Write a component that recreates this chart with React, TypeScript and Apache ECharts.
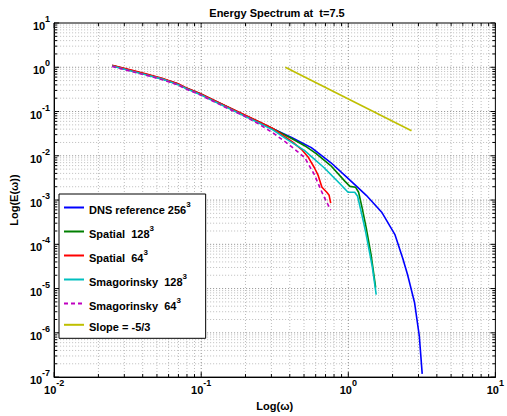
import React, { useEffect, useRef } from "react";
import * as echarts from "echarts";

// ---- data ----
const commonPts: number[][] = [
  [0.0248, 1.09], [0.0319, 0.879], [0.0419, 0.697], [0.0542, 0.552], [0.0697, 0.416],
  [0.0788, 0.338], [0.0991, 0.248], [0.124, 0.173], [0.156, 0.12], [0.195, 0.0839],
  [0.245, 0.0585], [0.307, 0.0407],
];
const dnsTail: number[][] = [
  [0.415, 0.0256], [0.561, 0.0153], [0.759, 0.00704], [0.979, 0.00325], [1.14, 0.00204],
  [1.325, 0.00128], [1.687, 0.000532], [2.08, 0.000163], [2.35, 4.71e-5], [2.53, 2.06e-5],
  [2.82, 4.85e-6], [3.04, 8.39e-7], [3.18, 1.18e-7],
];
const spatial128Tail: number[][] = [
  [0.415, 0.0243], [0.505, 0.0169], [0.605, 0.0112], [0.759, 0.00603], [0.95, 0.00264],
  [1.026, 0.00204], [1.122, 0.00194], [1.175, 0.0015], [1.247, 0.000622], [1.325, 0.000233],
  [1.429, 5.78e-5], [1.535, 1.05e-5],
];
const spatial64Tail: number[][] = [
  [0.415, 0.0208], [0.482, 0.0138], [0.536, 0.00912], [0.587, 0.00544], [0.624, 0.0036],
  [0.662, 0.00194], [0.714, 0.0015], [0.741, 0.00128], [0.759, 0.000848],
];
const smag128: number[][] = [
  [0.0248, 1.07], [0.0319, 0.86], [0.0419, 0.68], [0.0542, 0.54], [0.0697, 0.405],
  [0.0788, 0.33], [0.0991, 0.24], [0.124, 0.167], [0.156, 0.115], [0.195, 0.08],
  [0.245, 0.0555], [0.307, 0.0385], [0.385, 0.0231], [0.505, 0.0131], [0.682, 0.00544],
  [0.881, 0.0023], [0.996, 0.0015], [1.106, 0.0015], [1.157, 0.00122], [1.247, 0.000411],
  [1.319, 0.000174], [1.456, 3.11e-5], [1.548, 7.33e-6],
];
const smag64: number[][] = [
  [0.0248, 1.04], [0.0319, 0.84], [0.0419, 0.665], [0.0542, 0.525], [0.0697, 0.395],
  [0.0788, 0.322], [0.0991, 0.235], [0.124, 0.163], [0.156, 0.112], [0.195, 0.0797],
  [0.245, 0.0527], [0.307, 0.0331], [0.396, 0.0178], [0.505, 0.00912], [0.587, 0.00379],
  [0.671, 0.00135], [0.759, 0.000591],
];
const slopeLine: number[][] = [[0.373, 1.0], [2.69, 0.0367]];

const seriesNames = [
  "DNS reference 256",
  "Spatial  128",
  "Spatial  64",
  "Smagorinsky  128",
  "Smagorinsky  64",
  "Slope = -5/3",
];
const seriesColors = ["#0000ff", "#007f00", "#ff0000", "#00bfbf", "#bf00bf", "#bfbf00"];

const xDecades = [-2, -1, 0, 1];
const yDecades = [-7, -6, -5, -4, -3, -2, -1, 0, 1];
const minorMultipliers = [1, 2, 3, 4, 5, 6, 7, 8, 9];

const FONT = "'Liberation Sans', Arial, Helvetica, sans-serif";

function tickValues(decades: number[]): number[] {
  const out: number[] = [];
  for (let i = 0; i < decades.length; i++) {
    const e = decades[i];
    if (i === decades.length - 1) {
      out.push(Math.pow(10, e));
    } else {
      for (const m of minorMultipliers) out.push(m * Math.pow(10, e));
    }
  }
  return out;
}

function isMajor(v: number) {
  const l = Math.log10(v);
  return Math.abs(l - Math.round(l)) < 1e-6;
}

function expLabel(v: number) {
  const e = Math.round(Math.log10(v));
  return `{b|10}{s|${e}}`;
}

const richLabel = {
  b: { fontSize: 11, fontWeight: "bold", fontFamily: FONT, color: "#000", lineHeight: 17, verticalAlign: "bottom" },
  s: { fontSize: 9, fontWeight: "bold", fontFamily: FONT, color: "#000", lineHeight: 10, verticalAlign: "top" },
};

export default function App() {
  const ref = useRef<HTMLDivElement>(null);
  useEffect(() => {
    if (!ref.current) return;
    const chart = echarts.init(ref.current, undefined, { renderer: "svg" });

    const xTicks = tickValues(xDecades);
    const yTicks = tickValues(yDecades);

    const xGridSeries = {
      type: "custom",
      silent: true,
      z: 1,
      data: xTicks.map((v) => [v, 1]),
      renderItem: (params: any, api: any) => {
        const cs = params.coordSys;
        const v = api.value(0);
        const px = api.coord([v, 1])[0];
        const major = isMajor(v);
        const tl = major ? 5 : 3;
        const children: any[] = [];
        if (px > cs.x + 0.5 && px < cs.x + cs.width - 0.5) {
          children.push({
            type: "line",
            shape: { x1: px, y1: cs.y, x2: px, y2: cs.y + cs.height },
            style: { stroke: major ? "#8c8c8c" : "#bdbdbd", lineWidth: 1, lineDash: [1, 2] },
          });
        }
        children.push({
          type: "line",
          shape: { x1: px, y1: cs.y + cs.height, x2: px, y2: cs.y + cs.height - tl },
          style: { stroke: "#000", lineWidth: 1 },
        });
        children.push({
          type: "line",
          shape: { x1: px, y1: cs.y, x2: px, y2: cs.y + tl },
          style: { stroke: "#000", lineWidth: 1 },
        });
        return { type: "group", children };
      },
    };

    const yGridSeries = {
      type: "custom",
      silent: true,
      z: 1,
      data: yTicks.map((v) => [1, v]),
      renderItem: (params: any, api: any) => {
        const cs = params.coordSys;
        const v = api.value(1);
        const py = api.coord([1, v])[1];
        const major = isMajor(v);
        const tl = major ? 5 : 3;
        const children: any[] = [];
        if (py > cs.y + 0.5 && py < cs.y + cs.height - 0.5) {
          children.push({
            type: "line",
            shape: { x1: cs.x, y1: py, x2: cs.x + cs.width, y2: py },
            style: { stroke: major ? "#8c8c8c" : "#bdbdbd", lineWidth: 1, lineDash: [1, 2] },
          });
        }
        children.push({
          type: "line",
          shape: { x1: cs.x, y1: py, x2: cs.x + tl, y2: py },
          style: { stroke: "#000", lineWidth: 1 },
        });
        children.push({
          type: "line",
          shape: { x1: cs.x + cs.width, y1: py, x2: cs.x + cs.width - tl, y2: py },
          style: { stroke: "#000", lineWidth: 1 },
        });
        return { type: "group", children };
      },
    };

    const curves = [
      commonPts.concat(dnsTail),
      commonPts.concat(spatial128Tail),
      commonPts.map((p) => [p[0], p[1] * 1.02]).concat(spatial64Tail),
      smag128,
      smag64,
      slopeLine,
    ];

    const lineSeries = curves.map((d, i) => ({
      name: seriesNames[i],
      type: "line",
      data: d,
      symbol: "none",
      z: 3,
      lineStyle: {
        color: seriesColors[i],
        width: 1.6,
        type: i === 4 ? [4, 3] : "solid",
      },
      itemStyle: { color: seriesColors[i] },
    }));

    chart.setOption({
      animation: false,
      backgroundColor: "#fff",
      title: {
        text: "Energy Spectrum at  t=7.5",
        left: 272,
        textAlign: "center",
        top: 2,
        textStyle: { fontSize: 11, fontWeight: "bold", fontFamily: FONT, color: "#000" },
      },
      grid: {
        left: 43,
        top: 23,
        width: 458,
        height: 358,
        show: true,
        borderColor: "#000",
        borderWidth: 1,
        backgroundColor: "transparent",
        z: 4,
      },
      legend: {
        orient: "vertical",
        left: 59,
        top: 194,
        data: seriesNames,
        backgroundColor: "#fff",
        borderColor: "#000",
        borderWidth: 1,
        padding: [6, 15, 6, 4],
        itemWidth: 20,
        itemHeight: 12,
        itemGap: 9,
        z: 10,
        selectedMode: false,
        itemStyle: { opacity: 0, borderWidth: 0 },
        formatter: (name: string) =>
          name.startsWith("Slope") ? `{t|${name}}` : `{t|${name}}{s|3}`,
        textStyle: {
          fontFamily: FONT,
          rich: {
            t: { fontSize: 11, fontWeight: "bold", fontFamily: FONT, color: "#000", lineHeight: 15, verticalAlign: "bottom" },
            s: { fontSize: 8, fontWeight: "bold", fontFamily: FONT, color: "#000", lineHeight: 8, verticalAlign: "top" },
          },
        },
      },
      xAxis: {
        type: "log",
        logBase: 10,
        min: 0.01,
        max: 10,
        name: "Log(ω)",
        nameLocation: "middle",
        nameGap: 21,
        nameTextStyle: { fontSize: 11, fontWeight: "bold", fontFamily: FONT, color: "#000" },
        axisLine: { show: true, lineStyle: { color: "#000", width: 1 } },
        axisTick: { show: false },
        splitLine: { show: false },
        minorTick: { show: false },
        axisLabel: {
          margin: 1,
          formatter: (v: number) => expLabel(v),
          rich: richLabel,
        },
      },
      yAxis: {
        type: "log",
        logBase: 10,
        min: 1e-7,
        max: 10,
        name: "Log(E(ω))",
        nameLocation: "middle",
        nameGap: 29,
        nameTextStyle: { fontSize: 11, fontWeight: "bold", fontFamily: FONT, color: "#000" },
        axisLine: { show: true, lineStyle: { color: "#000", width: 1 } },
        axisTick: { show: false },
        splitLine: { show: false },
        axisLabel: {
          margin: 4,
          formatter: (v: number) => expLabel(v),
          rich: richLabel,
        },
      },
      series: [xGridSeries, yGridSeries, ...lineSeries],
    });

    return () => chart.dispose();
  }, []);

  return (
    <div
      ref={ref}
      style={{ position: "fixed", left: 0, top: 0, width: 507, height: 416, background: "#fff" }}
    />
  );
}
